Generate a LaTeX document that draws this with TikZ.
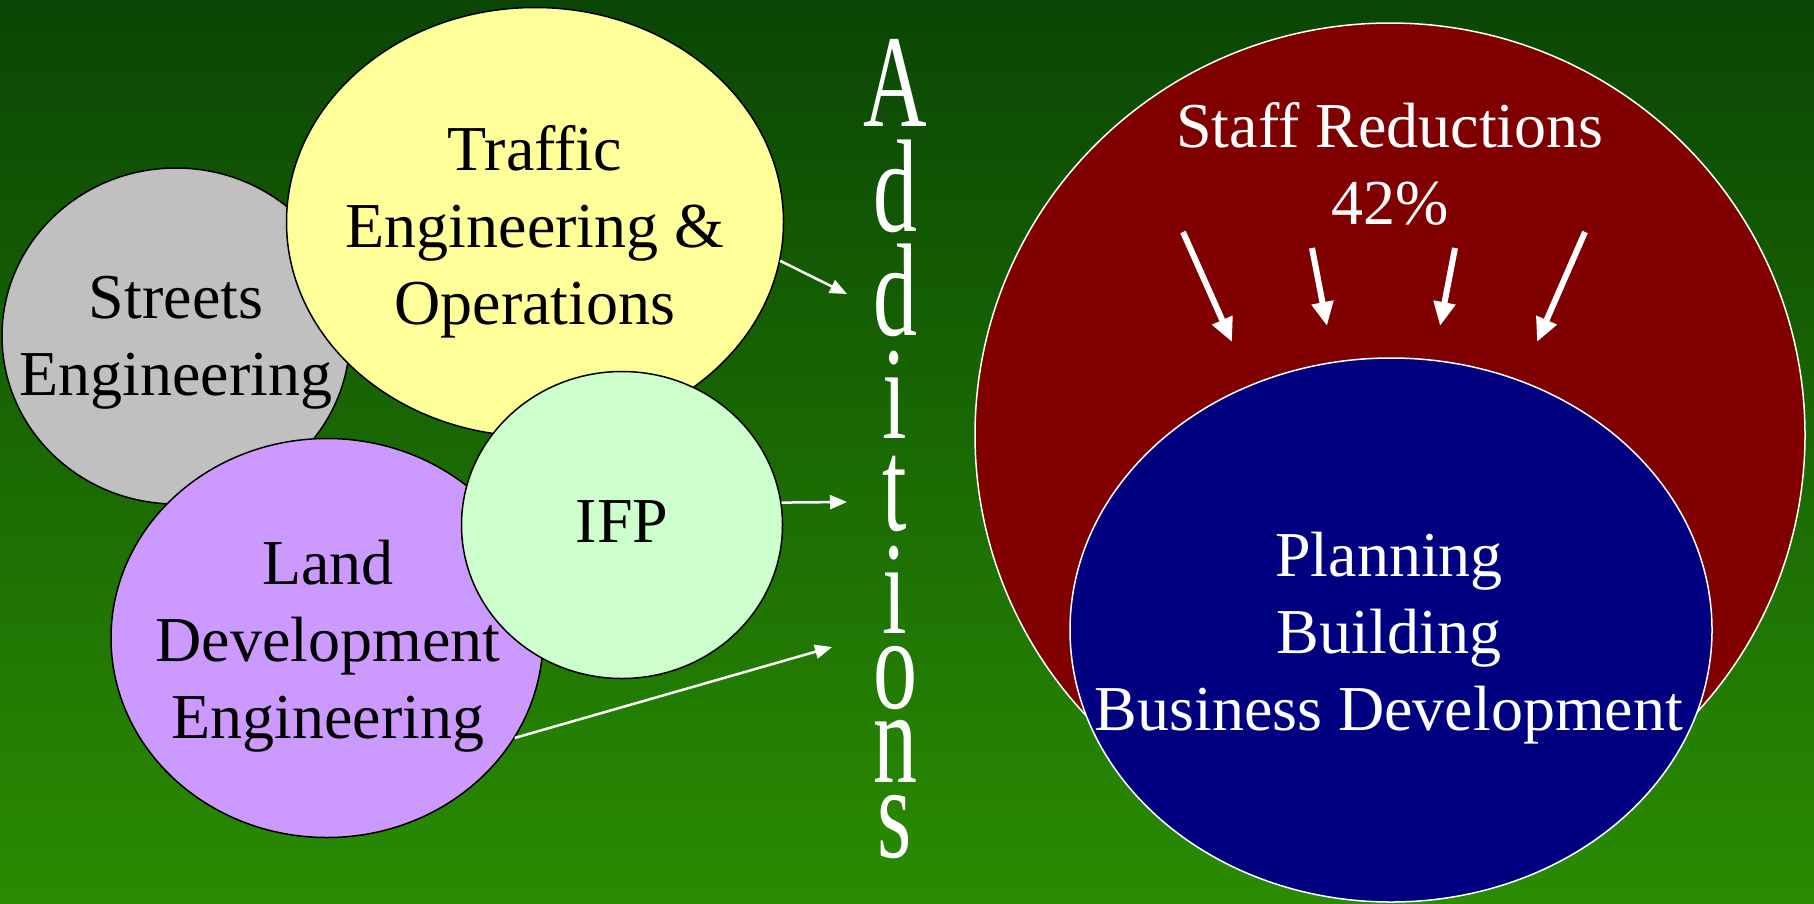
\documentclass[tikz,border=0pt]{standalone}
\usepackage{graphicx}
\usepackage{fontspec}
\setmainfont{Liberation Serif}
\usetikzlibrary{shapes.geometric,arrows.meta}

\definecolor{bgtop}{RGB}{10,70,4}
\definecolor{bgmid}{RGB}{27,106,2}
\definecolor{bgbot}{RGB}{42,140,2}
\definecolor{streetsgray}{RGB}{192,192,192}
\definecolor{trafficyellow}{RGB}{255,255,153}
\definecolor{landpurple}{RGB}{204,153,255}
\definecolor{ifpgreen}{RGB}{204,255,204}
\definecolor{staffred}{RGB}{128,0,0}
\definecolor{planblue}{RGB}{0,0,128}

\tikzset{
  dept/.style={ellipse, draw=black, line width=1.5pt, inner sep=0pt},
  group/.style={ellipse, draw=white, line width=1.5pt, inner sep=0pt},
  lbl/.style={align=center, inner sep=0pt, font=\fontsize{64}{77}\selectfont},
  addletter/.style={anchor=base, inner sep=0pt, text=white, font=\fontsize{88}{88}\selectfont},
  feed/.style={draw=white, line width=2.5pt, -{Triangle[length=17pt,width=14pt]}},
  cut/.style={draw=white, line width=6pt, -{Triangle[length=24pt,width=21pt]}}
}

\begin{document}
\begin{tikzpicture}[x=1pt,y=-1pt]
    \useasboundingbox (0,0) rectangle (1814,903);
    \shade[top color=bgtop, middle color=bgmid, bottom color=bgbot] (0,0) rectangle (1814,903);

    % departments on the left
    \node[dept, fill=streetsgray, minimum width=348pt, minimum height=336pt] (streets) at (176,336) {};
    \node[lbl] (streetsT) at (176,343) {Streets\\Engineering};
    \node[dept, fill=trafficyellow, minimum width=497pt, minimum height=429pt] (traffic) at (535,222) {};
    \node[lbl] (trafficT) at (535,232) {Traffic\\Engineering \&\\Operations};
    \node[dept, fill=landpurple, minimum width=432pt, minimum height=399pt] (land) at (327,638) {};
    \node[lbl] (landT) at (328,646) {Land\\Development\\Engineering};
    \node[dept, fill=ifpgreen, minimum width=321pt, minimum height=307pt] (ifp) at (622,525) {};
    \node[lbl] (ifpT) at (622,522) {IFP};

    % vertical word
    \foreach \ch/\by [count=\k] in {A/126,d/231,d/335,i/438,t/530,i/633,o/708,n/782,s/857}
        \node[addletter] (add\k) at (895,\by) {\scalebox{1}[1.5]{\ch}};

    \coordinate (inA) at (847,294);
    \coordinate (inB) at (847,502);
    \coordinate (inC) at (832,647);
    \draw[feed] (traffic.-9) -- (inA);
    \draw[feed] (ifp.8) -- (inB);
    \draw[feed] (land.-28.6) -- (inC);

    % right hand side
    \node[group, fill=staffred, minimum width=830pt, minimum height=824pt] (staff) at (1390,435) {};
    \node[lbl, text=white] (staffT) at (1390,164) {Staff Reductions\\42\%};
    \node[group, fill=planblue, minimum width=642pt, minimum height=544pt] (plan) at (1391,630) {};
    \node[lbl, text=white] (planT) at (1389,638) {Planning\\Building\\Business Development};

    \foreach \sx/\sy/\ex/\ey [count=\i] in {1183/232/1232/342, 1312/248/1327/326, 1455/248/1440/326, 1585/232/1537/342} {
        \coordinate (cut\i s) at (\sx,\sy);
        \coordinate (cut\i e) at (\ex,\ey);
        \draw[cut] (cut\i s) -- (cut\i e);
    }
\end{tikzpicture}
\end{document}
